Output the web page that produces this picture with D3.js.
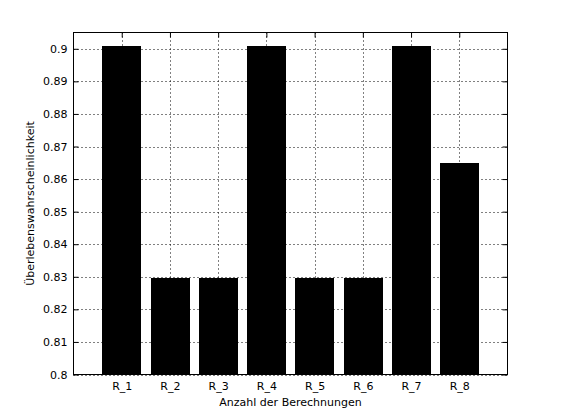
<!DOCTYPE html>
<html><head><meta charset="utf-8">
<script src="https://cdn.jsdelivr.net/npm/d3@7"></script>
<style>body{margin:0;background:#fff}svg{display:block}text{font-family:"DejaVu Sans",sans-serif;font-size:11px;fill:#000}</style>
</head><body>
<script>
const categories = ["R_1","R_2","R_3","R_4","R_5","R_6","R_7","R_8"];
const values = [0.901, 0.8295, 0.8295, 0.901, 0.8295, 0.8295, 0.901, 0.8648];
const yTicks = [0.8,0.81,0.82,0.83,0.84,0.85,0.86,0.87,0.88,0.89,0.9];
const yLabel = "Überlebenswahrscheinlichkeit";
const xLabel = "Anzahl der Berechnungen";

const W=561,H=420, L=73.5, R=507.5, T=32.5, B=374.5;
const svg=d3.select("body").append("svg").attr("width",W).attr("height",H);
const x=d3.scaleLinear().domain([0,categories.length+1]).range([L,R]);
const y=d3.scaleLinear().domain([0.8,0.905]).range([B,T]);
const bw=(x(1)-x(0))*0.8;

const fmt=d=>String(+d.toFixed(2));
// grid
const g=svg.append("g");
g.selectAll(".gy").data(yTicks).join("line").attr("x1",L).attr("x2",R)
 .attr("y1",d=>Math.round(y(d))+0.5).attr("y2",d=>Math.round(y(d))+0.5)
 .attr("stroke","#000").attr("stroke-dasharray","1,3");
g.selectAll(".gx").data(categories).join("line")
 .attr("x1",(d,i)=>Math.round(x(i+1))+0.5).attr("x2",(d,i)=>Math.round(x(i+1))+0.5)
 .attr("y1",T).attr("y2",B).attr("stroke","#000").attr("stroke-dasharray","1,3");
// bars
svg.selectAll(".bar").data(values).join("rect")
 .attr("x",(d,i)=>Math.round(x(i+1)-bw/2)).attr("width",Math.round(bw))
 .attr("y",d=>Math.round(y(d))).attr("height",d=>B-Math.round(y(d)))
 .attr("fill","#000");
// axes
const ax=svg.append("g").attr("transform",`translate(0,${B})`)
 .call(d3.axisBottom(x).tickValues(d3.range(1,categories.length+1)).tickFormat(d=>categories[d-1]).tickSize(-5).tickPadding(8));
const axT=svg.append("g").attr("transform",`translate(0,${T})`)
 .call(d3.axisTop(x).tickValues(d3.range(1,categories.length+1)).tickFormat("").tickSize(-5));
const ay=svg.append("g").attr("transform",`translate(${L},0)`)
 .call(d3.axisLeft(y).tickValues(yTicks).tickFormat(fmt).tickSize(-5).tickPadding(6));
const ayR=svg.append("g").attr("transform",`translate(${R},0)`)
 .call(d3.axisRight(y).tickValues(yTicks).tickFormat("").tickSize(-5));
[ax,axT,ay,ayR].forEach(a=>{a.select(".domain").remove();a.attr("font-family",null).attr("font-size",null);});
svg.append("rect").attr("x",L).attr("y",T).attr("width",R-L).attr("height",B-T).attr("fill","none").attr("stroke","#000");
svg.append("text").attr("x",(L+R)/2).attr("y",406).attr("text-anchor","middle").text(xLabel);
svg.append("text").attr("transform",`translate(34,${(T+B)/2}) rotate(-90)`).attr("text-anchor","middle").text(yLabel);
</script>
</body></html>
